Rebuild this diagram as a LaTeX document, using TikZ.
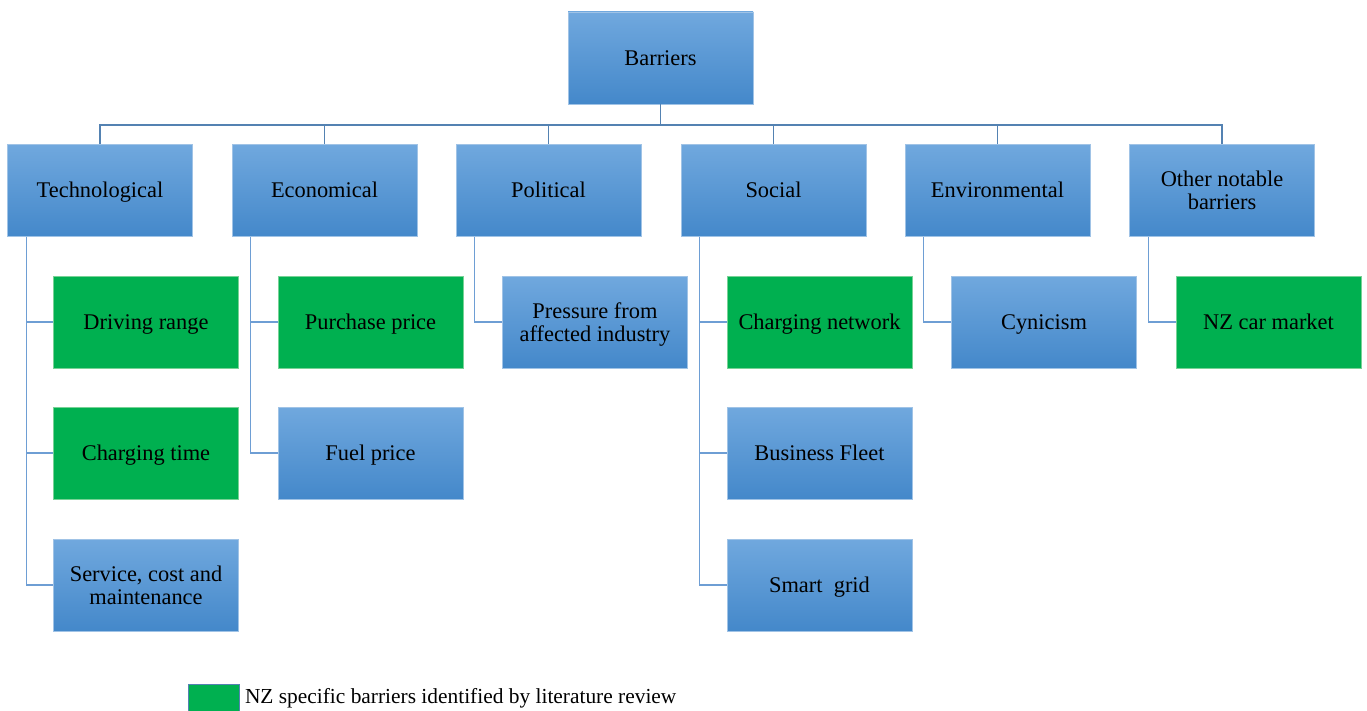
\documentclass[tikz,border=0pt]{standalone}
\usepackage{fontspec}
\setmainfont{Liberation Serif}
\definecolor{btop}{RGB}{112,168,222}
\definecolor{bbot}{RGB}{68,136,202}
\definecolor{bline}{RGB}{160,195,230}
\definecolor{gfill}{RGB}{0,176,80}
\definecolor{gline}{RGB}{120,210,150}
\definecolor{conn}{RGB}{84,130,178}
\definecolor{conn2}{RGB}{110,158,212}
\newcommand\mytopstrut{\rule{0pt}{20.8pt}}
\newcommand\mybotstrut{\rule[-6pt]{0pt}{6pt}}
\begin{document}
\begin{tikzpicture}[x=1pt,y=-1pt,
  box/.style={minimum width=185pt,minimum height=92pt,inner sep=2pt,align=center,
    font=\fontsize{22.4}{23}\selectfont,text=black,line width=0.8pt,
    execute at begin node=\mytopstrut,execute at end node=\mybotstrut},
  twoline/.style={text height=44pt,text depth=6pt},
  bluebox/.style={box,draw=bline,top color=btop,bottom color=bbot},
  greenbox/.style={box,draw=gline,fill=gfill},
  trunk/.style={draw=conn,line width=1.4pt},
  branch/.style={draw=conn2,line width=1.2pt}]
\useasboundingbox (0,0) rectangle (1367,711);
% root
\node[bluebox] (root) at (660.5,58) {Barriers};
% categories
\node[bluebox] (tech) at (100,190.5) {Technological};
\node[bluebox] (econ) at (324.5,190.5) {Economical};
\node[bluebox] (pol) at (548.5,190.5) {Political};
\node[bluebox] (soc) at (773.5,190.5) {Social};
\node[bluebox] (env) at (997.5,190.5) {Environmental};
\node[bluebox,twoline] (oth) at (1222,190.5) {Other notable\\barriers};
% children
\node[greenbox] (dr) at (146,322) {Driving range};
\node[greenbox] (ct) at (146,453) {Charging time};
\node[bluebox,twoline] (scm) at (146,585) {Service, cost and\\maintenance};
\node[greenbox] (pp) at (370.5,322) {Purchase price};
\node[bluebox] (fp) at (370.5,453) {Fuel price};
\node[bluebox,twoline] (pfai) at (595,322) {Pressure from\\affected industry};
\node[greenbox] (cn) at (819.5,322) {Charging network};
\node[bluebox] (bf) at (819.5,453) {Business Fleet};
\node[bluebox] (sg) at (819.5,585) {Smart\ \ grid};
\node[bluebox] (cyn) at (1044,322) {Cynicism};
\node[greenbox] (nzc) at (1268.5,322) {NZ car market};
% trunk
\coordinate (bus) at (660.5,125);
\draw[trunk] (root.south) -- (bus);
\foreach \n in {tech,econ,pol,soc,env,oth}{
  \draw[trunk] (\n.north) |- (bus);
}
% branches
\draw[branch] ([xshift=19pt]tech.south west) |- (dr.west);
\draw[branch] ([xshift=19pt]tech.south west) |- (ct.west);
\draw[branch] ([xshift=19pt]tech.south west) |- (scm.west);
\draw[branch] ([xshift=19pt]econ.south west) |- (pp.west);
\draw[branch] ([xshift=19pt]econ.south west) |- (fp.west);
\draw[branch] ([xshift=19pt]pol.south west) |- (pfai.west);
\draw[branch] ([xshift=19pt]soc.south west) |- (cn.west);
\draw[branch] ([xshift=19pt]soc.south west) |- (bf.west);
\draw[branch] ([xshift=19pt]soc.south west) |- (sg.west);
\draw[branch] ([xshift=19pt]env.south west) |- (cyn.west);
\draw[branch] ([xshift=19pt]oth.south west) |- (nzc.west);
% legend
\node[draw=conn,fill=gfill,line width=0.8pt,minimum width=51pt,minimum height=30pt,inner sep=0pt,anchor=north west] (legbox) at (188,684) {};
\node[anchor=west,inner sep=0pt,font=\fontsize{21.4}{24}\selectfont] (legtext) at ([xshift=5pt,yshift=1pt]legbox.east) {NZ specific barriers identified by literature review};
\end{tikzpicture}
\end{document}
